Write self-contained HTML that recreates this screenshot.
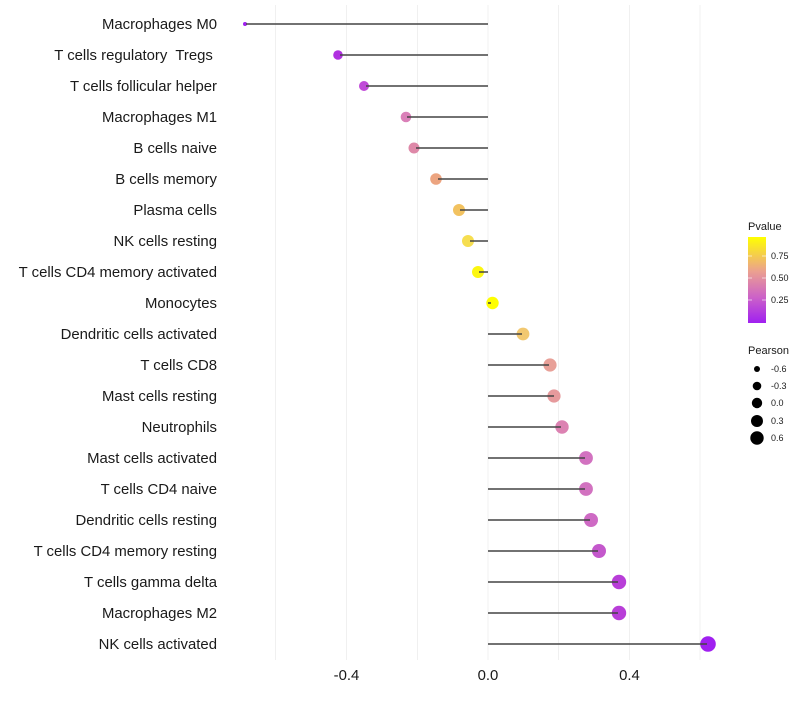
<!DOCTYPE html>
<html><head><meta charset="utf-8"><style>
body{margin:0;background:#fff;}
svg text{font-family:"Liberation Sans",sans-serif;}
</style></head><body>
<svg width="800" height="700" xmlns="http://www.w3.org/2000/svg">
<rect width="800" height="700" fill="#fff"/>
<g stroke="#f0f0f0" stroke-width="1">
<line x1="275.5" y1="5" x2="275.5" y2="660"/>
<line x1="346.5" y1="5" x2="346.5" y2="660"/>
<line x1="417.5" y1="5" x2="417.5" y2="660"/>
<line x1="488" y1="5" x2="488" y2="660"/>
<line x1="558.5" y1="5" x2="558.5" y2="660"/>
<line x1="629.5" y1="5" x2="629.5" y2="660"/>
<line x1="700" y1="5" x2="700" y2="660"/>
</g>
<g font-size="14.9" fill="#1a1a1a" text-anchor="end">
<text x="217" y="29">Macrophages M0</text>
<text x="217" y="60">T cells regulatory&#160; Tregs&#160;</text>
<text x="217" y="91">T cells follicular helper</text>
<text x="217" y="122">Macrophages M1</text>
<text x="217" y="153">B cells naive</text>
<text x="217" y="184">B cells memory</text>
<text x="217" y="215">Plasma cells</text>
<text x="217" y="246">NK cells resting</text>
<text x="217" y="277">T cells CD4 memory activated</text>
<text x="217" y="308">Monocytes</text>
<text x="217" y="339">Dendritic cells activated</text>
<text x="217" y="370">T cells CD8</text>
<text x="217" y="401">Mast cells resting</text>
<text x="217" y="432">Neutrophils</text>
<text x="217" y="463">Mast cells activated</text>
<text x="217" y="494">T cells CD4 naive</text>
<text x="217" y="525">Dendritic cells resting</text>
<text x="217" y="556">T cells CD4 memory resting</text>
<text x="217" y="587">T cells gamma delta</text>
<text x="217" y="618">Macrophages M2</text>
<text x="217" y="649">NK cells activated</text>
</g>
<g font-size="14.9" fill="#1a1a1a" text-anchor="middle">
<text x="346.5" y="680">-0.4</text>
<text x="488" y="680">0.0</text>
<text x="629.5" y="680">0.4</text>
</g>
<g>
<circle cx="245" cy="24" r="2" fill="#a020f0"/>
<circle cx="338" cy="55" r="4.8" fill="#b030e0"/>
<circle cx="364" cy="86" r="5" fill="#c04ad8"/>
<circle cx="406" cy="117" r="5.3" fill="#da80b8"/>
<circle cx="414" cy="148" r="5.5" fill="#de88a8"/>
<circle cx="436" cy="179" r="5.8" fill="#eca480"/>
<circle cx="459" cy="210" r="6" fill="#f2c260"/>
<circle cx="468" cy="241" r="6" fill="#f6de50"/>
<circle cx="478" cy="272" r="6" fill="#fcf610"/>
<circle cx="492.5" cy="303" r="6.2" fill="#fefe00"/>
<circle cx="523" cy="334" r="6.4" fill="#f2c870"/>
<circle cx="550" cy="365" r="6.6" fill="#e8a098"/>
<circle cx="554" cy="396" r="6.6" fill="#e69a9c"/>
<circle cx="562" cy="427" r="6.7" fill="#dc82b2"/>
<circle cx="586" cy="458" r="6.9" fill="#d272c0"/>
<circle cx="586" cy="489" r="6.9" fill="#d272c0"/>
<circle cx="591" cy="520" r="7" fill="#ce6ac4"/>
<circle cx="599" cy="551" r="7" fill="#c458cc"/>
<circle cx="619" cy="582" r="7.2" fill="#b83ed8"/>
<circle cx="619" cy="613" r="7.2" fill="#b83ed8"/>
<circle cx="708" cy="644" r="7.8" fill="#a020f0"/>
</g>
<g stroke="#444" stroke-width="1.5">
<line x1="246" y1="24" x2="488" y2="24"/>
<line x1="340" y1="55" x2="488" y2="55"/>
<line x1="366" y1="86" x2="488" y2="86"/>
<line x1="407" y1="117" x2="488" y2="117"/>
<line x1="416" y1="148" x2="488" y2="148"/>
<line x1="438" y1="179" x2="488" y2="179"/>
<line x1="460" y1="210" x2="488" y2="210"/>
<line x1="470" y1="241" x2="488" y2="241"/>
<line x1="479" y1="272" x2="488" y2="272"/>
<line x1="488" y1="303" x2="491" y2="303"/>
<line x1="488" y1="334" x2="522" y2="334"/>
<line x1="488" y1="365" x2="549" y2="365"/>
<line x1="488" y1="396" x2="554" y2="396"/>
<line x1="488" y1="427" x2="561" y2="427"/>
<line x1="488" y1="458" x2="585" y2="458"/>
<line x1="488" y1="489" x2="585" y2="489"/>
<line x1="488" y1="520" x2="590" y2="520"/>
<line x1="488" y1="551" x2="598" y2="551"/>
<line x1="488" y1="582" x2="618" y2="582"/>
<line x1="488" y1="613" x2="618" y2="613"/>
<line x1="488" y1="644" x2="707" y2="644"/>
</g>
<defs><linearGradient id="g" x1="0" y1="1" x2="0" y2="0">
<stop offset="0" stop-color="#a020f0"/>
<stop offset="0.3" stop-color="#cc62c8"/>
<stop offset="0.6" stop-color="#eba090"/>
<stop offset="1" stop-color="#ffff00"/>
</linearGradient></defs>
<text x="748" y="230" font-size="11" fill="#1a1a1a">Pvalue</text>
<rect x="748" y="237" width="18" height="86" fill="url(#g)"/>
<g stroke="#fff" stroke-opacity="0.6" stroke-width="1">
<line x1="748" y1="256" x2="752" y2="256"/><line x1="762" y1="256" x2="766" y2="256"/>
<line x1="748" y1="278" x2="752" y2="278"/><line x1="762" y1="278" x2="766" y2="278"/>
<line x1="748" y1="300" x2="752" y2="300"/><line x1="762" y1="300" x2="766" y2="300"/>
</g>
<g font-size="9" fill="#1a1a1a">
<text x="771" y="259">0.75</text>
<text x="771" y="281">0.50</text>
<text x="771" y="303">0.25</text>
</g>
<text x="748" y="354" font-size="11" fill="#1a1a1a">Pearson</text>
<g fill="#000">
<circle cx="757" cy="369" r="3"/>
<circle cx="757" cy="386" r="4.3"/>
<circle cx="757" cy="403" r="5.2"/>
<circle cx="757" cy="421" r="6"/>
<circle cx="757" cy="438" r="6.7"/>
</g>
<g font-size="9" fill="#1a1a1a">
<text x="771" y="372">-0.6</text>
<text x="771" y="389">-0.3</text>
<text x="771" y="406">0.0</text>
<text x="771" y="424">0.3</text>
<text x="771" y="441">0.6</text>
</g>
</svg>
</body></html>
